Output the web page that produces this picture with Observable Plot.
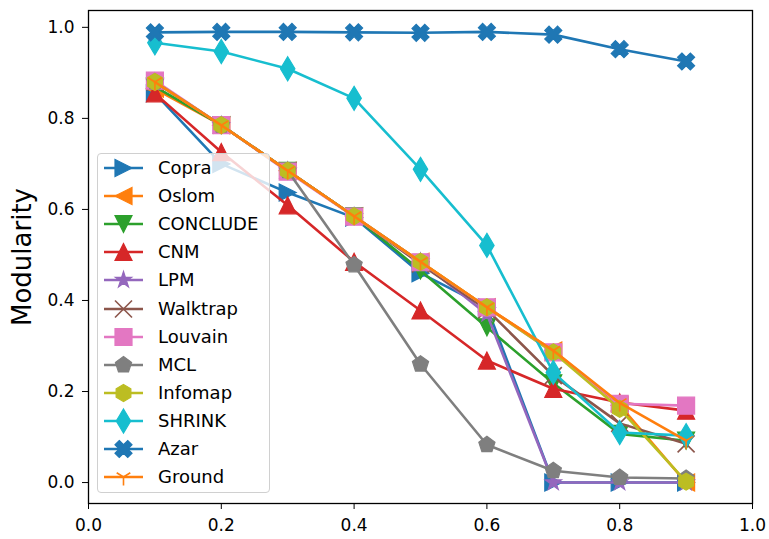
<!DOCTYPE html>
<html>
<head>
<meta charset="utf-8">
<script src="https://cdn.jsdelivr.net/npm/d3@7"></script>
<script src="https://cdn.jsdelivr.net/npm/@observablehq/plot@0.6"></script>
<style>
  html, body { margin: 0; padding: 0; background: #fff; }
  #wrap { position: relative; width: 769px; height: 539px; font-family: "DejaVu Sans", sans-serif; }
  #wrap svg { display: block; }
  g[aria-label="y-axis label"] text { font-size: 26px; }
  #legend { position: absolute; left: 97px; top: 153px; width: 171px; height: 338px;
    background: rgba(255,255,255,0.8); border: 1px solid #d0d0d0; border-radius: 4px; }
  .row { position: absolute; left: 0; height: 28px; width: 171px; }
  .row svg { position: absolute; left: 6px; top: 0; overflow: visible; }
  .row span { position: absolute; left: 60px; top: 0; line-height: 28px; font-size: 18px; color: #000; white-space: nowrap; }
</style>
</head>
<body>
<div id="wrap"><div id="legend"></div></div>
<script>
// ---- data ----
const xValues = [0.1, 0.2, 0.3, 0.4, 0.5, 0.6, 0.7, 0.8, 0.9];
const seriesNames = ["Copra", "Oslom", "CONCLUDE", "CNM", "LPM", "Walktrap", "Louvain", "MCL", "Infomap", "SHRINK", "Azar", "Ground"];
const copra    = [0.855, 0.700, 0.637, 0.582, 0.460, 0.385, 0.000, 0.000, 0.000];
const oslom    = [0.865, 0.785, 0.685, 0.585, 0.485, 0.385, 0.290, 0.170, 0.000];
const conclude = [0.870, 0.785, 0.685, 0.585, 0.466, 0.341, 0.218, 0.107, 0.092];
const cnm      = [0.855, 0.726, 0.609, 0.485, 0.378, 0.268, 0.206, 0.176, 0.158];
const lpm      = [0.880, 0.785, 0.685, 0.585, 0.485, 0.370, 0.000, 0.000, 0.000];
const walktrap = [0.880, 0.785, 0.685, 0.585, 0.480, 0.380, 0.235, 0.130, 0.085];
const louvain  = [0.883, 0.785, 0.683, 0.584, 0.484, 0.385, 0.286, 0.173, 0.169];
const mcl      = [0.880, 0.785, 0.685, 0.478, 0.260, 0.083, 0.026, 0.011, 0.009];
const infomap  = [0.880, 0.785, 0.685, 0.585, 0.485, 0.385, 0.286, 0.162, 0.002];
const shrink   = [0.966, 0.947, 0.909, 0.844, 0.688, 0.521, 0.242, 0.110, 0.103];
const azar     = [0.989, 0.990, 0.990, 0.989, 0.988, 0.990, 0.984, 0.952, 0.925];
const ground   = [0.880, 0.785, 0.685, 0.585, 0.485, 0.385, 0.290, 0.175, 0.092];
const seriesValues = [copra, oslom, conclude, cnm, lpm, walktrap, louvain, mcl, infomap, shrink, azar, ground];
const seriesColors = ["#1f77b4", "#ff7f0e", "#2ca02c", "#d62728", "#9467bd", "#8c564b", "#e377c2", "#7f7f7f", "#bcbd22", "#17becf", "#1f77b4", "#ff7f0e"];
const xTicks = [0.0, 0.2, 0.4, 0.6, 0.8, 1.0];
const yTicks = [0.0, 0.2, 0.4, 0.6, 0.8, 1.0];
const yLabel = "Modularity";

// ---- matplotlib-like marker symbols ----
const sym = (fn) => ({ draw(ctx, size) { const h = Math.sqrt(size / Math.PI); fn(ctx, h); } });
const poly = (ctx, pts) => { ctx.moveTo(pts[0][0], pts[0][1]); for (let i = 1; i < pts.length; i++) ctx.lineTo(pts[i][0], pts[i][1]); ctx.closePath(); };
const regular = (n, h) => d3.range(n).map(k => [h * Math.cos(-Math.PI / 2 + k * 2 * Math.PI / n), h * Math.sin(-Math.PI / 2 + k * 2 * Math.PI / n)]);
const symbols = {
  triRight: sym((c, h) => poly(c, [[h, 0], [-h, -h], [-h, h]])),
  triLeft: sym((c, h) => poly(c, [[-h, 0], [h, -h], [h, h]])),
  triDown: sym((c, h) => poly(c, [[0, h], [-h, -h], [h, -h]])),
  triUp: sym((c, h) => poly(c, [[0, -h], [-h, h], [h, h]])),
  star: sym((c, h) => poly(c, d3.range(10).map(k => { const a = -Math.PI / 2 + k * Math.PI / 5, r = k % 2 ? h * 0.381966 : h; return [r * Math.cos(a), r * Math.sin(a)]; }))),
  x: sym((c, h) => { c.moveTo(-h, -h); c.lineTo(h, h); c.moveTo(-h, h); c.lineTo(h, -h); }),
  square: sym((c, h) => poly(c, [[-h, -h], [h, -h], [h, h], [-h, h]])),
  pentagon: sym((c, h) => poly(c, regular(5, h))),
  hexagon: sym((c, h) => poly(c, regular(6, h))),
  thinDiamond: sym((c, h) => poly(c, [[0, -1.414 * h], [0.849 * h, 0], [0, 1.414 * h], [-0.849 * h, 0]])),
  xFilled: sym((c, h) => poly(c, [[-1, -2], [0, -1], [1, -2], [2, -1], [1, 0], [2, 1], [1, 2], [0, 1], [-1, 2], [-2, 1], [-1, 0], [-2, -1]].map(([a, b]) => [a * h / 2, b * h / 2]))),
  tri1: sym((c, h) => { c.moveTo(0, 0); c.lineTo(0, h); c.moveTo(0, 0); c.lineTo(0.8 * h, -0.5 * h); c.moveTo(0, 0); c.lineTo(-0.8 * h, -0.5 * h); })
};
const seriesSymbols = ["triRight", "triLeft", "triDown", "triUp", "star", "x", "square", "pentagon", "hexagon", "thinDiamond", "xFilled", "tri1"];
const strokeOnly = new Set(["x", "tri1"]);
const R = 8.5;

// ---- marks ----
const marks = [];
seriesNames.forEach((name, i) => {
  const data = xValues.map((x, j) => ({ x, y: seriesValues[i][j], name }));
  const color = seriesColors[i];
  const s = seriesSymbols[i];
  marks.push(Plot.line(data, { x: "x", y: "y", stroke: color, strokeWidth: 2.6, strokeLinejoin: "round" }));
  if (strokeOnly.has(s)) {
    marks.push(Plot.dot(data, { x: "x", y: "y", symbol: symbols[s], r: R, fill: "none", stroke: color, strokeWidth: 1.6 }));
  } else {
    marks.push(Plot.dot(data, { x: "x", y: "y", symbol: symbols[s], r: R, fill: color, stroke: color, strokeWidth: 1.2 }));
  }
});

const chart = Plot.plot({
  width: 769,
  height: 539,
  marginLeft: 88,
  marginRight: 17,
  marginTop: 10,
  marginBottom: 36,
  style: { fontFamily: "DejaVu Sans, sans-serif", fontSize: "17px", color: "#000", background: "#fff" },
  x: { domain: [0, 1] },
  y: { domain: [-0.046, 1.037] },
  marks: [
    ...marks,
    Plot.frame({ stroke: "#000", strokeWidth: 1.3 }),
    Plot.axisX({ ticks: xTicks, tickFormat: d3.format(".1f"), tickSize: 6, tickPadding: 9, label: null }),
    Plot.axisY({ ticks: yTicks, tickFormat: d3.format(".1f"), tickSize: 6, tickPadding: 8, label: yLabel, labelAnchor: "center", labelArrow: "none", labelOffset: 76 })
  ]
});
document.getElementById("wrap").insertBefore(chart, document.getElementById("legend"));

// ---- legend (HTML overlay, matplotlib style) ----
const legend = document.getElementById("legend");
seriesNames.forEach((name, i) => {
  const row = document.createElement("div");
  row.className = "row";
  row.style.top = (i * 28.1) + "px";
  const s = seriesSymbols[i];
  const p = d3.path();
  symbols[s].draw(p, R * R * Math.PI);
  const color = seriesColors[i];
  const so = strokeOnly.has(s);
  row.innerHTML = `<svg width="40" height="28"><line x1="0" x2="39" y1="14" y2="14" stroke="${color}" stroke-width="2.6"/>` +
    `<path transform="translate(19.5,14)" d="${p.toString()}" fill="${so ? "none" : color}" stroke="${color}" stroke-width="${so ? 1.6 : 1.2}"/></svg>` +
    `<span>${name}</span>`;
  legend.appendChild(row);
});
</script>
</body>
</html>
